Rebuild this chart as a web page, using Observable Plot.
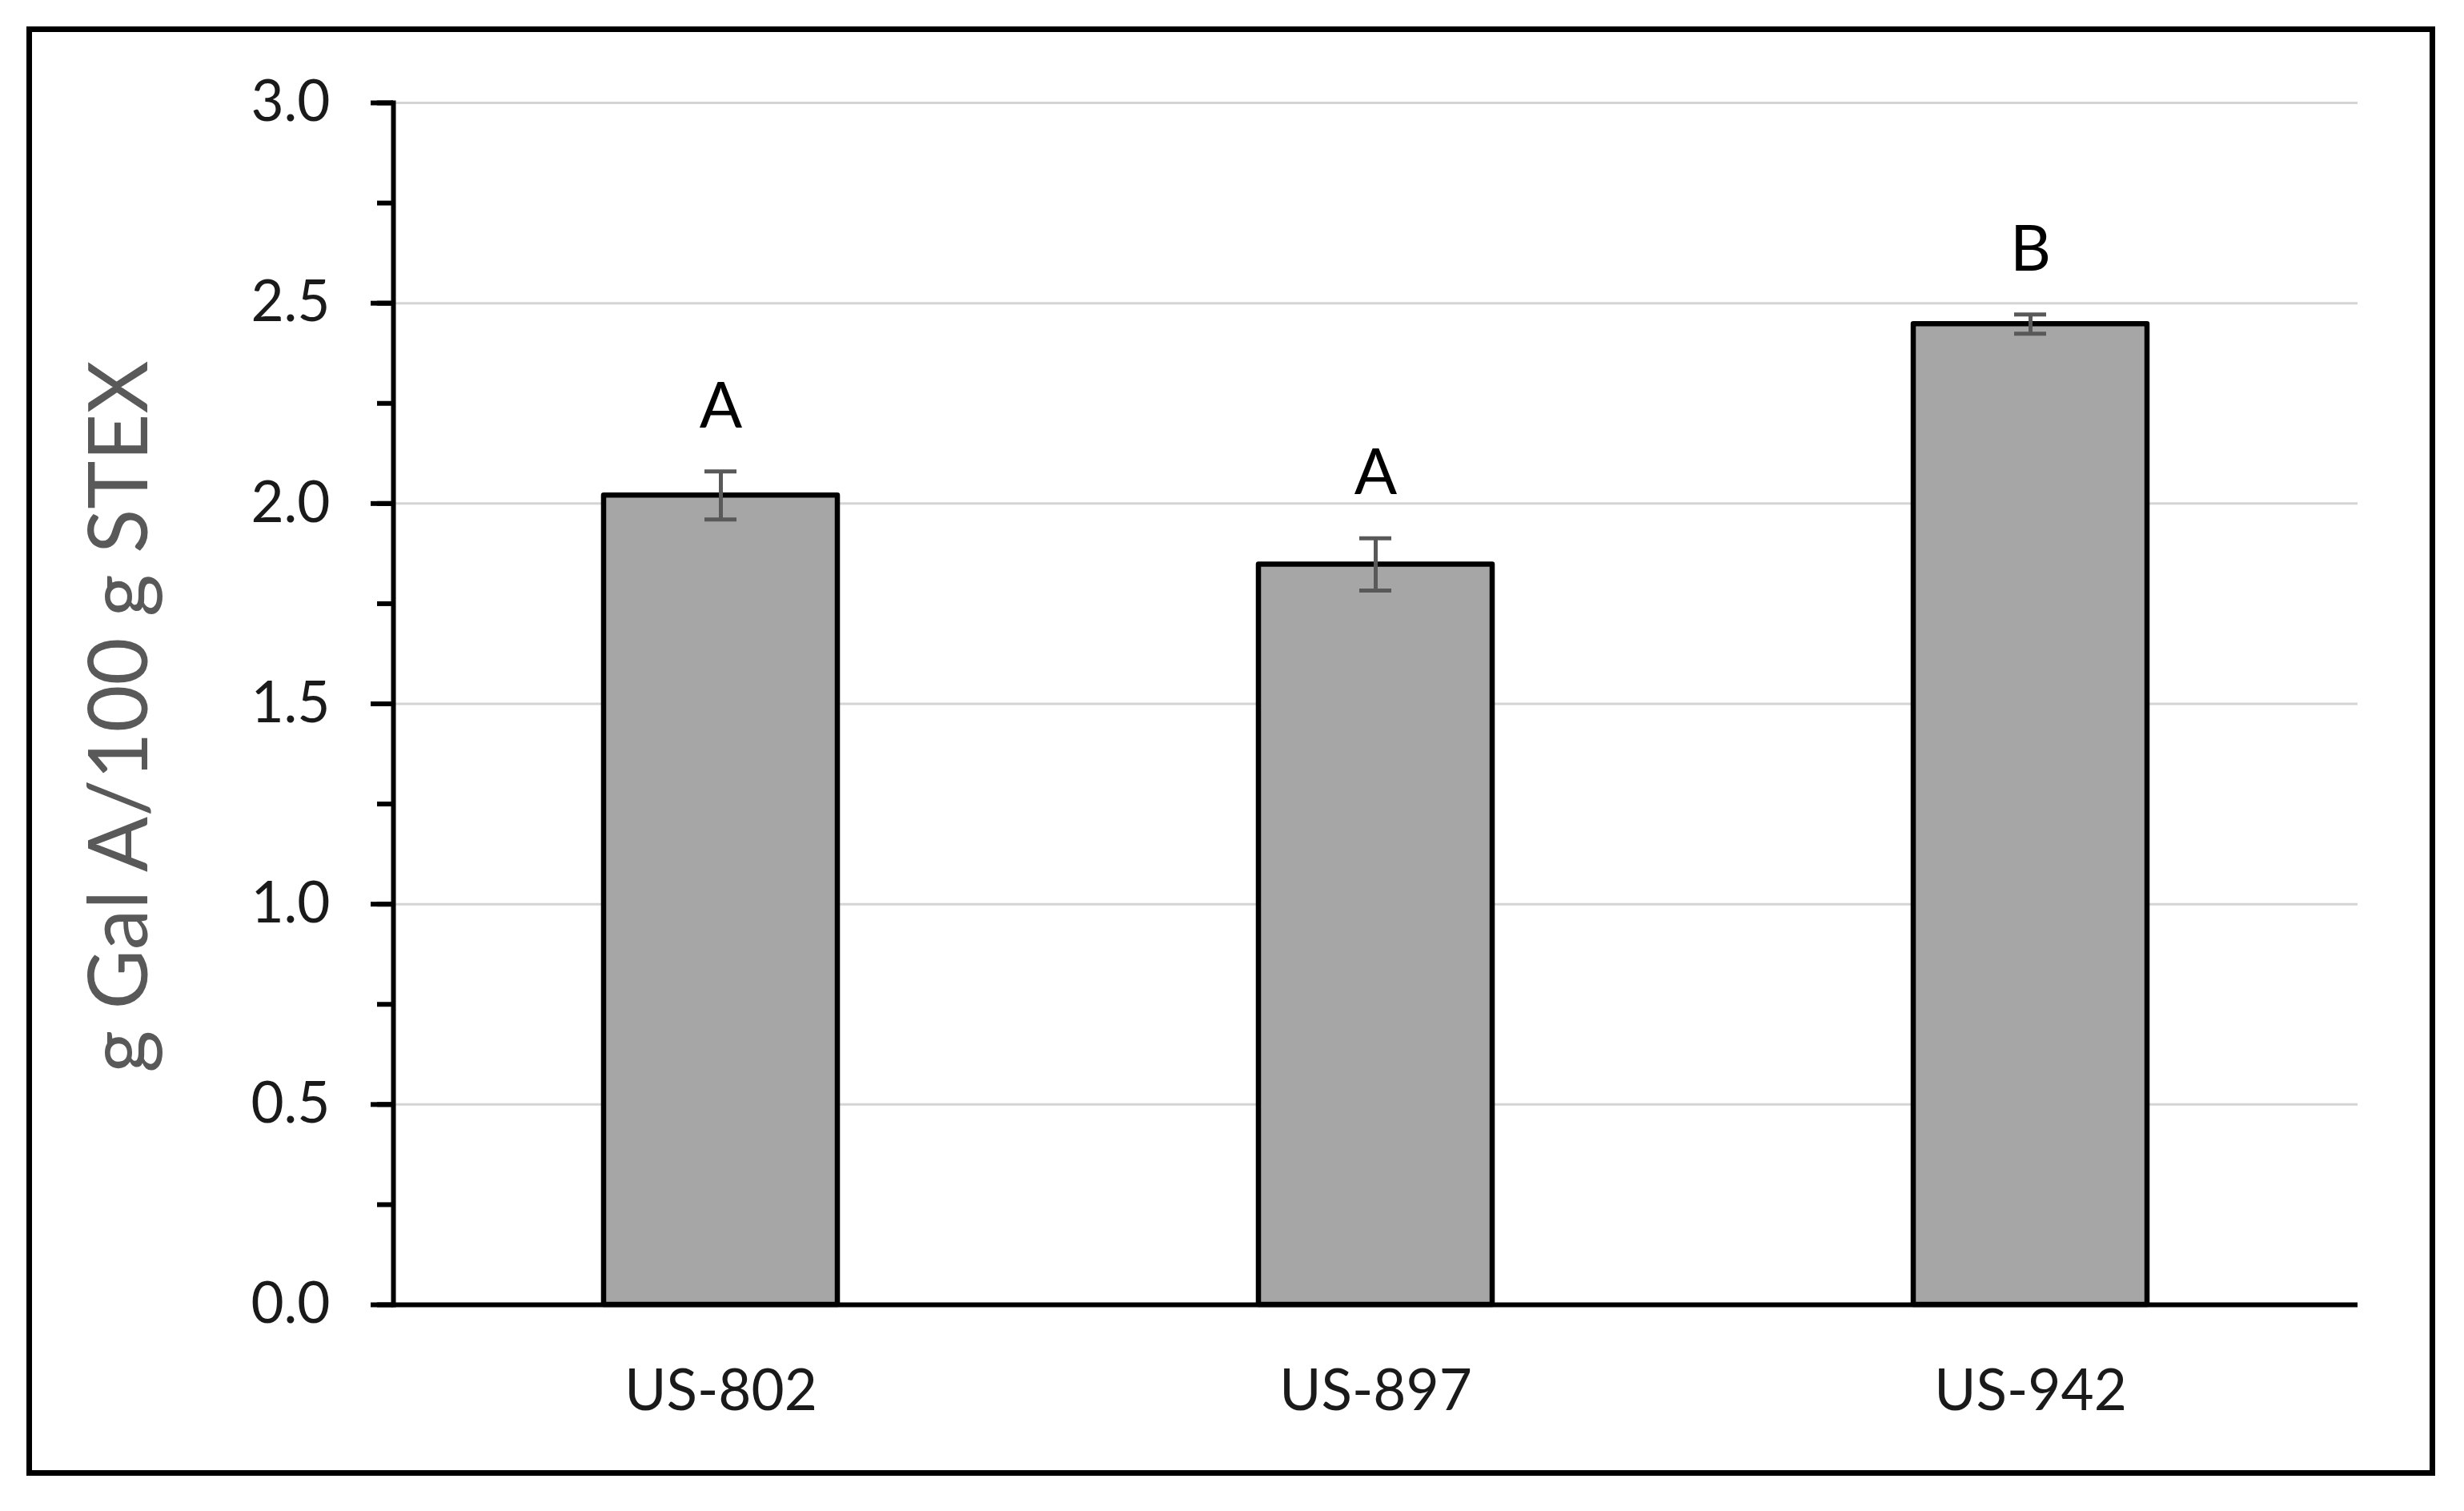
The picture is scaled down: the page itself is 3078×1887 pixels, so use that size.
<!DOCTYPE html>
<html><head><meta charset="utf-8">
<script src="https://cdn.jsdelivr.net/npm/d3@7"></script>
<script src="https://cdn.jsdelivr.net/npm/@observablehq/plot@0.6"></script>
<style>
html,body{margin:0;padding:0;background:#fff;}
#wrap{position:relative;width:3078px;height:1887px;overflow:hidden;}
#wrap svg{position:absolute;left:0;top:0;}
#border{position:absolute;left:33px;top:33px;width:3009px;height:1810px;border:7px solid #000;box-sizing:border-box;pointer-events:none;}
</style></head><body>
<div id="wrap"><div id="border"></div></div>
<script>
const categories = ["US-802", "US-897", "US-942"];
const means = [2.02, 1.848, 2.448];
const errors = [0.06, 0.065, 0.024];
const letters = ["A", "A", "B"];
const yMajorTicks = [0, 0.5, 1.0, 1.5, 2.0, 2.5, 3.0];
const yMinorTicks = [0, 0.25, 0.5, 0.75, 1.0, 1.25, 1.5, 1.75, 2.0, 2.25, 2.5, 2.75, 3.0];
const yTitle = "g Gal A/100 g STEX";

const data = categories.map((c, i) => ({
  cat: c, mean: means[i], lo: means[i] - errors[i], hi: means[i] + errors[i], letter: letters[i]
}));

const tickColor = "#000";
const labelColor = "#1a1a1a";

const chart = Plot.plot({
  width: 3078, height: 1887,
  marginLeft: 491, marginRight: 133, marginTop: 128, marginBottom: 258,
  style: {fontFamily: "Lato, sans-serif", background: "transparent", overflow: "visible"},
  x: {domain: categories, paddingInner: 0.643, paddingOuter: 0.3215, label: null},
  y: {domain: [0, 3], label: null},
  marks: [
    Plot.gridY(yMajorTicks.filter(d => d > 0), {stroke: "#d4d4d4", strokeOpacity: 1, strokeWidth: 3}),
    Plot.barY(data, {x: "cat", y: "mean", fill: "#a6a6a6", stroke: "#000", strokeWidth: 6.5, strokeLinejoin: "round"}),
    Plot.ruleX(data, {x: "cat", y1: "lo", y2: "hi", stroke: "#595959", strokeWidth: 5}),
    Plot.tickY(data, {x: "cat", y: "lo", stroke: "#595959", strokeWidth: 5, insetLeft: 126, insetRight: 126}),
    Plot.tickY(data, {x: "cat", y: "hi", stroke: "#595959", strokeWidth: 5, insetLeft: 126, insetRight: 126}),
    Plot.text(data, {x: "cat", y: "hi", text: "letter", lineAnchor: "bottom", dy: -55, fontSize: 79, fill: "#000"}),
    Plot.axisY(yMinorTicks, {tickSize: 20, stroke: tickColor, strokeWidth: 6, strokeOpacity: 1, tickFormat: () => "", label: null}),
    Plot.axisY(yMajorTicks, {tickSize: 28, stroke: tickColor, strokeWidth: 6, strokeOpacity: 1, tickFormat: () => "", label: null}),
    Plot.axisY(yMajorTicks, {tickSize: 0, tickPadding: 79, tickFormat: d3.format(".1f"), fontSize: 71, fill: labelColor, label: null}),
    Plot.axisX({tickSize: 0, tickPadding: 81, fontSize: 71, fill: labelColor, label: null}),
    Plot.ruleY([0], {stroke: "#000", strokeWidth: 6}),
    Plot.frame({anchor: "left", stroke: "#000", strokeWidth: 6}),
    Plot.text([yTitle], {text: d => d, frameAnchor: "left", textAnchor: "middle", lineAnchor: "middle", rotate: -90, dx: -340, dy: 16, fontSize: 102, fill: "#595959"})
  ]
});
document.getElementById("wrap").prepend(chart);
</script>
</body></html>
